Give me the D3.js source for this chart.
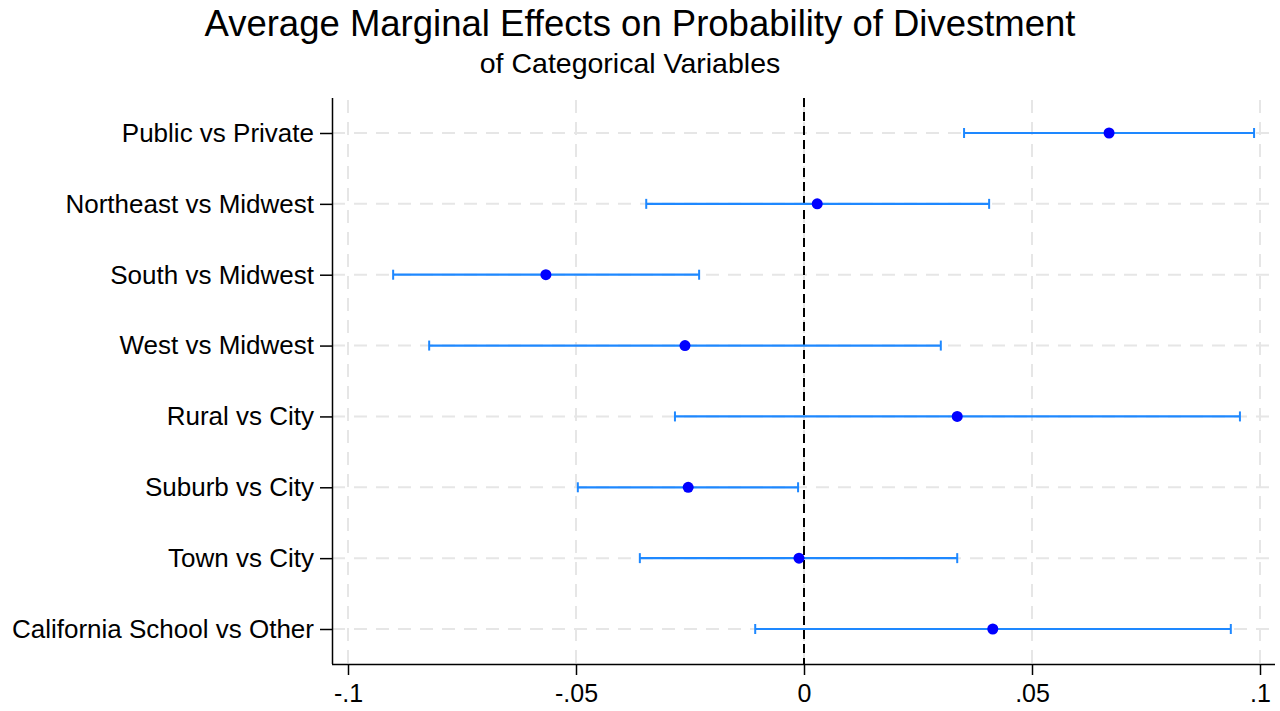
<!DOCTYPE html>
<html>
<head>
<meta charset="utf-8">
<script src="https://cdn.jsdelivr.net/npm/d3@7"></script>
<style>
  body { margin: 0; background: #fff; }
  svg { display: block; font-family: "Liberation Sans", Arial, sans-serif; }
</style>
</head>
<body>
<div id="chart"></div>
<script>
// data
const categories = ['Public vs Private', 'Northeast vs Midwest', 'South vs Midwest', 'West vs Midwest',
    'Rural vs City', 'Suburb vs City', 'Town vs City', 'California School vs Other'];
const estimates = [0.0669, 0.0029, -0.0566, -0.0261, 0.0336, -0.0254, -0.0011, 0.0414];
const lower = [0.0351, -0.0346, -0.0901, -0.0822, -0.0283, -0.0496, -0.0360, -0.0107];
const upper = [0.0987, 0.0406, -0.0230, 0.0300, 0.0956, -0.0013, 0.0336, 0.0936];
const xTicks = [-0.1, -0.05, 0, 0.05, 0.1];
const xTickLabels = ['-.1', '-.05', '0', '.05', '.1'];

const w = 1280, h = 711;
const m = { top: 98, right: 5, bottom: 47, left: 332 };

const svg = d3.select('#chart').append('svg')
    .attr('width', w)
    .attr('height', h);

svg.append('rect').attr('width', w).attr('height', h).style('fill', '#fff');

const x = d3.scaleLinear().domain([-0.1, 0.1]).range([348, 1260]);
const y = d3.scalePoint().domain(categories).range([133, 629]);

const plotBottom = h - m.bottom;

// title
svg.append('text')
    .attr('text-anchor', 'middle')
    .attr('x', 640)
    .attr('y', 36)
    .style('font-size', '36.5px')
    .style('fill', '#000')
    .text('Average Marginal Effects on Probability of Divestment');

svg.append('text')
    .attr('text-anchor', 'middle')
    .attr('x', 630)
    .attr('y', 73)
    .style('font-size', '28.5px')
    .style('fill', '#000')
    .text('of Categorical Variables');

// grid
svg.append('g')
    .selectAll('line')
    .data(xTicks)
    .join('line')
    .attr('x1', d => x(d))
    .attr('x2', d => x(d))
    .attr('y1', m.top + 2)
    .attr('y2', plotBottom)
    .style('stroke', '#e6e6e6')
    .style('stroke-width', '2px')
    .style('stroke-dasharray', '13,9');

svg.append('g')
    .selectAll('line')
    .data(categories)
    .join('line')
    .attr('x1', m.left)
    .attr('x2', w - m.right)
    .attr('y1', d => y(d))
    .attr('y2', d => y(d))
    .style('stroke', '#e6e6e6')
    .style('stroke-width', '2px')
    .style('stroke-dasharray', '13,9');

// reference line at 0
svg.append('line')
    .attr('x1', x(0))
    .attr('x2', x(0))
    .attr('y1', m.top)
    .attr('y2', plotBottom)
    .style('stroke', '#000')
    .style('stroke-width', '2px')
    .style('stroke-dasharray', '9,5');

// axes
const xAxis = svg.append('g')
    .attr('transform', `translate(0,${plotBottom})`)
    .call(d3.axisBottom(x).tickValues(xTicks).tickFormat((d, i) => xTickLabels[i]).tickSize(11).tickPadding(9));
xAxis.select('.domain').attr('d', `M${m.left},0.5H${w - m.right}`).style('stroke-width', '1.5px');
xAxis.selectAll('.tick line').style('stroke-width', '1.5px');
xAxis.selectAll('text').style('font-size', '25px').style('fill', '#000');

const yAxis = svg.append('g')
    .attr('transform', `translate(${m.left},0)`)
    .call(d3.axisLeft(y).tickSize(12).tickPadding(6));
yAxis.select('.domain').attr('d', `M0.5,${m.top}V${plotBottom}`).style('stroke-width', '1.5px');
yAxis.selectAll('.tick line').style('stroke-width', '1.5px');
yAxis.selectAll('text').style('font-size', '26px').style('fill', '#000');

// confidence intervals
const rows = categories.map((c, i) => ({ c, est: estimates[i], lo: lower[i], hi: upper[i] }));
const ci = svg.append('g');

ci.selectAll('line.ci')
    .data(rows)
    .join('line')
    .attr('class', 'ci')
    .attr('x1', d => x(d.lo))
    .attr('x2', d => x(d.hi))
    .attr('y1', d => y(d.c))
    .attr('y2', d => y(d.c))
    .style('stroke', '#1e88ff')
    .style('stroke-width', '2.2px');

['lo', 'hi'].forEach(k => {
    ci.selectAll(`line.cap-${k}`)
        .data(rows)
        .join('line')
        .attr('class', `cap-${k}`)
        .attr('x1', d => x(d[k]))
        .attr('x2', d => x(d[k]))
        .attr('y1', d => y(d.c) - 5)
        .attr('y2', d => y(d.c) + 5)
        .style('stroke', '#1e88ff')
        .style('stroke-width', '2px');
});

ci.selectAll('circle')
    .data(rows)
    .join('circle')
    .attr('cx', d => x(d.est))
    .attr('cy', d => y(d.c))
    .attr('r', 5.5)
    .style('fill', '#0000ff');
</script>
</body>
</html>
